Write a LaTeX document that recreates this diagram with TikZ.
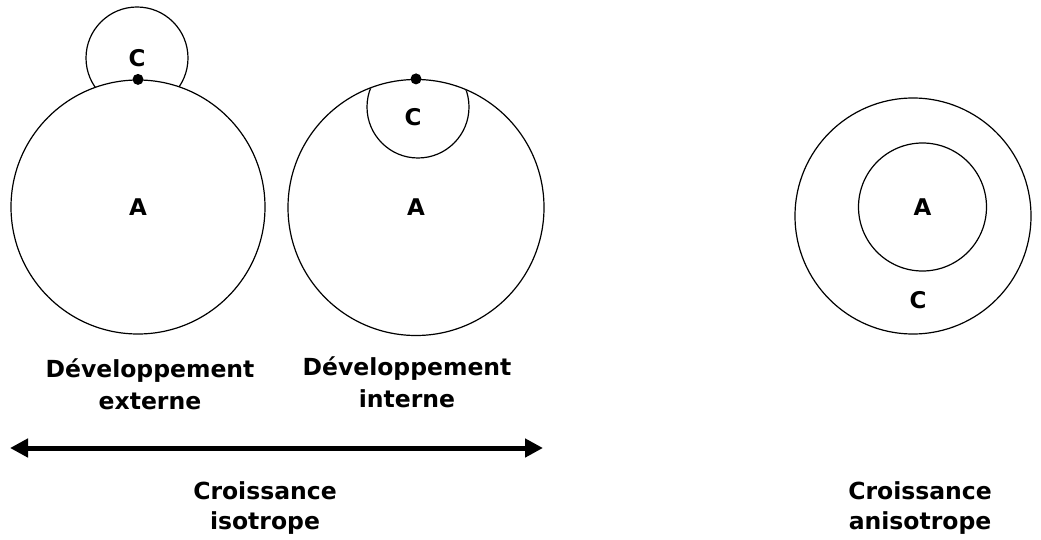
\documentclass[tikz,border=0pt]{standalone}
\usepackage{fontspec}
\setmainfont{DejaVu Sans}
\usetikzlibrary{positioning,arrows.meta}

\begin{document}
\begin{tikzpicture}[
  x=1pt, y=-1pt,
  every node/.style={font=\fontsize{23}{32}\selectfont\bfseries, align=center},
  ring/.style={draw=black, line width=1.2pt, circle, inner sep=0pt, fill=white},
  dot/.style={circle, fill=black, inner sep=0pt, minimum size=11pt},
  devlbl/.style={font=\fontsize{23.5}{32}\selectfont\bfseries},
  growlbl/.style={font=\fontsize{23.5}{30}\selectfont\bfseries},
  arr/.style={{Triangle[length=18pt,width=18pt]}-{Triangle[length=18pt,width=18pt]}, line width=5pt}
]
\useasboundingbox (0,0) rectangle (1041,540);

% externe
\node[ring, minimum size=102pt] (Cext) at (137,58) {C};
\node[ring, minimum size=254pt] (Aext) at (138,207) {A};
\node[dot] (pext) at (Aext.north) {};

% interne
\node[ring, minimum size=256pt] (Aint) at (416,207.5) {};
\node (Aintlbl) at (Aint.center) {A};
\begin{scope}
  \clip (416,207.5) circle (127.5);
  \node[ring, fill=none, minimum size=102pt] (Cint) at (418,107) {};
\end{scope}
\node (Cintlbl) at (413,117) {C};
\node[dot] (pint) at (Aint.north) {};

% anisotrope
\node[ring, minimum size=236pt] (Cani) at (913,216) {};
\node[ring, minimum size=128pt] (Aani) at (922.5,207) {A};
\node (Canilbl) at (918,300) {C};

% legendes
\node[devlbl] (devext) at (150,384.5) {Développement\\externe};
\node[devlbl] (devint) at (407,382.5) {Développement\\interne};

\coordinate (isoL) at (10,448);
\coordinate (isoR) at (543,448);
\draw[arr] (isoL) -- (isoR);

\node[growlbl] (iso) at (265,508.5) {Croissance\\isotrope};
\node[growlbl] (aniso) at (920,508.5) {Croissance\\anisotrope};
\end{tikzpicture}
\end{document}
